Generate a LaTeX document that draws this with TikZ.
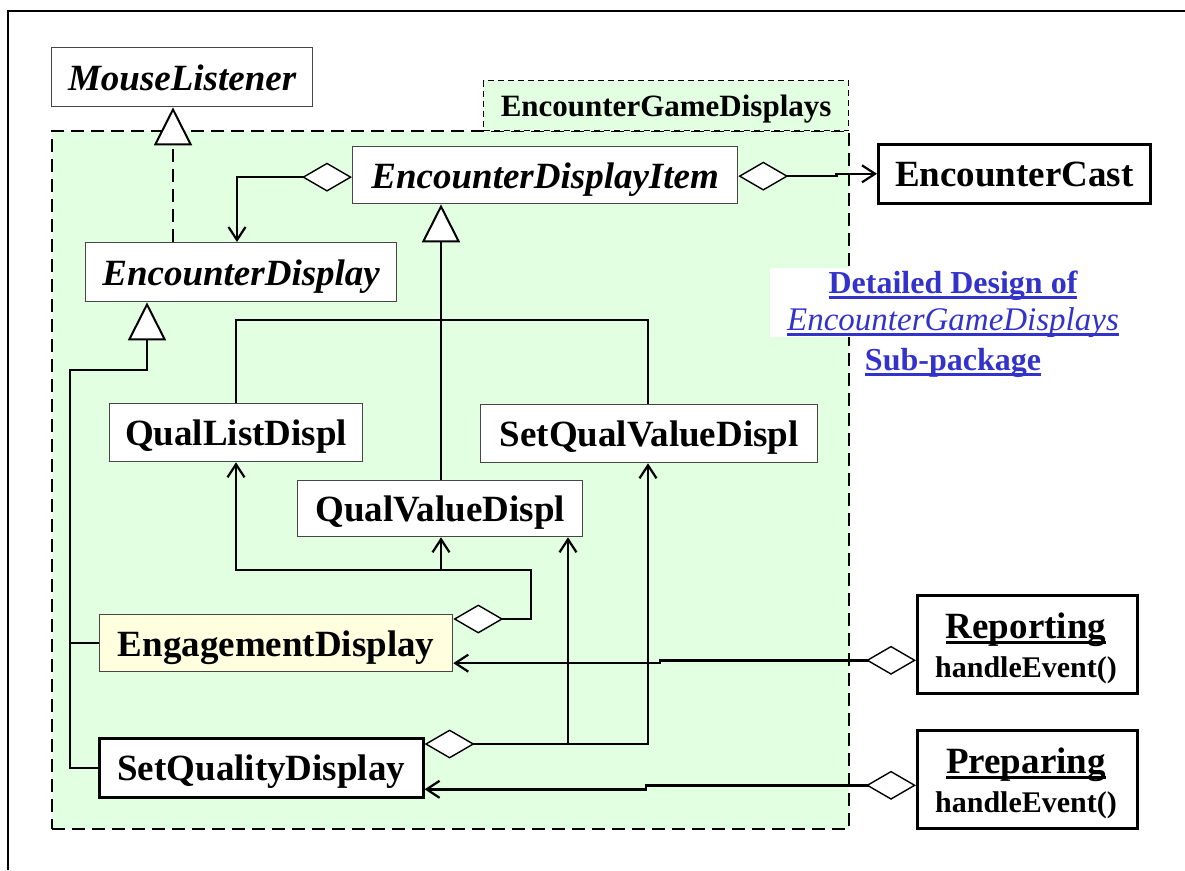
\documentclass[tikz,border=0pt]{standalone}
\usepackage{fontspec}
\setmainfont{Liberation Serif}
\usetikzlibrary{arrows.meta}
\definecolor{pkggreen}{RGB}{226,255,226}
\definecolor{engyellow}{RGB}{255,255,224}
\definecolor{noteblue}{RGB}{51,51,204}
\definecolor{boxgray}{RGB}{70,70,70}
\newcommand\myul[1]{\setbox0=\hbox{#1}\rlap{\vrule height -3pt depth 5.5pt width \wd0}\box0}
\tikzset{
  aggD/.tip={Diamond[length=50pt,width=29pt,fill=white,line width=1.4pt]},
  genT/.tip={Triangle[length=38pt,width=38pt,fill=white,line width=2pt]},
  openV/.tip={Straight Barb[length=13pt,width=17pt,line width=2.2pt]},
  cls/.style={draw=boxgray,line width=1.3pt,fill=white,inner sep=0pt,anchor=north west,
    text height=30pt,text depth=4pt,font=\fontsize{37}{44}\selectfont\bfseries},
  abscls/.style={cls,font=\fontsize{37}{44}\selectfont\bfseries\itshape},
  thickcls/.style={cls,draw=black,line width=2.6pt},
  conn/.style={line width=2.5pt,line join=miter},
  notetxt/.style={anchor=base,inner sep=0pt,text=noteblue},
  optxt/.style={anchor=base,inner sep=0pt,font=\fontsize{30}{36}\selectfont\bfseries},
}
\begin{document}
\begin{tikzpicture}[x=1pt,y=-1pt]
\useasboundingbox (0,0) rectangle (1185,870);
\fill[white] (0,0) rectangle (1185,870);
\draw[line width=2pt] (1185,11) -- (8,11) -- (8,870);

% package
\node[draw,line width=2.2pt,dash pattern=on 13pt off 7pt,fill=pkggreen,anchor=north west,
  minimum width=797pt,minimum height=698pt,inner sep=0pt] (pkg) at (51,130) {};
\node[draw,line width=1.2pt,dash pattern=on 6pt off 4pt,fill=pkggreen,anchor=north west,
  minimum width=365pt,minimum height=50pt,inner sep=0pt,text height=25pt,text depth=4pt,
  font=\fontsize{31}{36}\selectfont\bfseries] (tab) at (483,80) {EncounterGameDisplays};

% note
\fill[white] (770,268) rectangle (1125,337);
\node[notetxt,font=\fontsize{32}{38}\selectfont\bfseries] (note1) at (953,293) {\myul{Detailed Design of}};
\node[notetxt,font=\fontsize{33}{38}\selectfont\itshape] (note2) at (953,330) {\myul{EncounterGameDisplays}};
\node[notetxt,font=\fontsize{32}{38}\selectfont\bfseries] (note3) at (953,370) {\myul{Sub-package}};

% classes
\node[abscls,minimum width=261pt,minimum height=59pt] (ml) at (51,47) {MouseListener};
\node[abscls,minimum width=385pt,minimum height=57pt] (edi) at (352,146) {EncounterDisplayItem};
\node[thickcls,minimum width=272pt,minimum height=59pt] (ec) at (877,143) {EncounterCast};
\node[abscls,minimum width=311pt,minimum height=59pt] (ed) at (85,242) {EncounterDisplay};
\node[cls,minimum width=253pt,minimum height=58pt] (qld) at (109,403) {QualListDispl};
\node[cls,minimum width=337pt,minimum height=58pt] (sqvd) at (480,404) {SetQualValueDispl};
\node[cls,minimum width=285pt,minimum height=56pt] (qvd) at (297,480) {QualValueDispl};
\node[cls,fill=engyellow,minimum width=353pt,minimum height=57pt] (eng) at (99,614) {EngagementDisplay};
\node[thickcls,minimum width=324pt,minimum height=59pt] (sqd) at (98,737) {SetQualityDisplay};

\node[thickcls,minimum width=220pt,minimum height=98pt] (rep) at (916,594) {};
\node[optxt,font=\fontsize{37}{44}\selectfont\bfseries] (repname) at (1026,638) {\myul{Reporting}};
\node[optxt] (repop) at (1026,677) {handleEvent()};
\node[thickcls,minimum width=220pt,minimum height=98pt] (prep) at (916,729) {};
\node[optxt,font=\fontsize{37}{44}\selectfont\bfseries] (prepname) at (1026,773) {\myul{Preparing}};
\node[optxt] (prepop) at (1026,812) {handleEvent()};

% connectors
\draw[conn,dash pattern=on 13pt off 7pt,-{genT}] ([xshift=88pt]ed.north west) -- ([xshift=122pt]ml.south west);
\draw[conn,{aggD}-{openV}] ([yshift=-2pt]edi.west) -| ([xshift=152pt]ed.north west);
\draw[conn,{aggD}-{openV}] ([yshift=-1pt]edi.east) -- ++(98,0) |- (ec.west);

\draw[conn,{genT}-] ([xshift=89pt]edi.south west) -- ([xshift=144pt]qvd.north west);
\draw[conn] ([xshift=127pt]qld.north west) -- ++(0,-83) -| ([xshift=168pt]sqvd.north west);

\coordinate (trunk) at (70,370);
\draw[conn,{genT}-] ([xshift=62pt]ed.south west) |- (trunk) |- (sqd.west);
\draw[conn] (trunk |- eng.west) -- (eng.west);

\coordinate (jA) at (531,570);
\coordinate (qvdL) at ([xshift=144pt]qvd.south west);
\draw[conn,{aggD}-{openV}] ([yshift=-5pt]eng.north east) -| (jA) -| (qvdL);
\draw[conn,-{openV}] (qvdL |- jA) -| ([xshift=127pt]qld.south west);

\coordinate (sqdA) at ([yshift=-7pt]sqd.north east);
\coordinate (qvdR) at ([xshift=271pt]qvd.south west);
\draw[conn,{aggD}-{openV}] (sqdA) -| ([xshift=168pt]sqvd.south west);
\draw[conn,-{openV}] (qvdR |- sqdA) -- (qvdR);

\draw[conn,{aggD}-{openV}] ([yshift=-16pt]rep.west) -- ++(-256,0) |- ([yshift=-20pt]eng.east);
\draw[conn,{aggD}-{openV}] ([yshift=-6pt]prep.west) -- ++(-270,0) |- ([yshift=-21.5pt]sqd.east);
\end{tikzpicture}
\end{document}
